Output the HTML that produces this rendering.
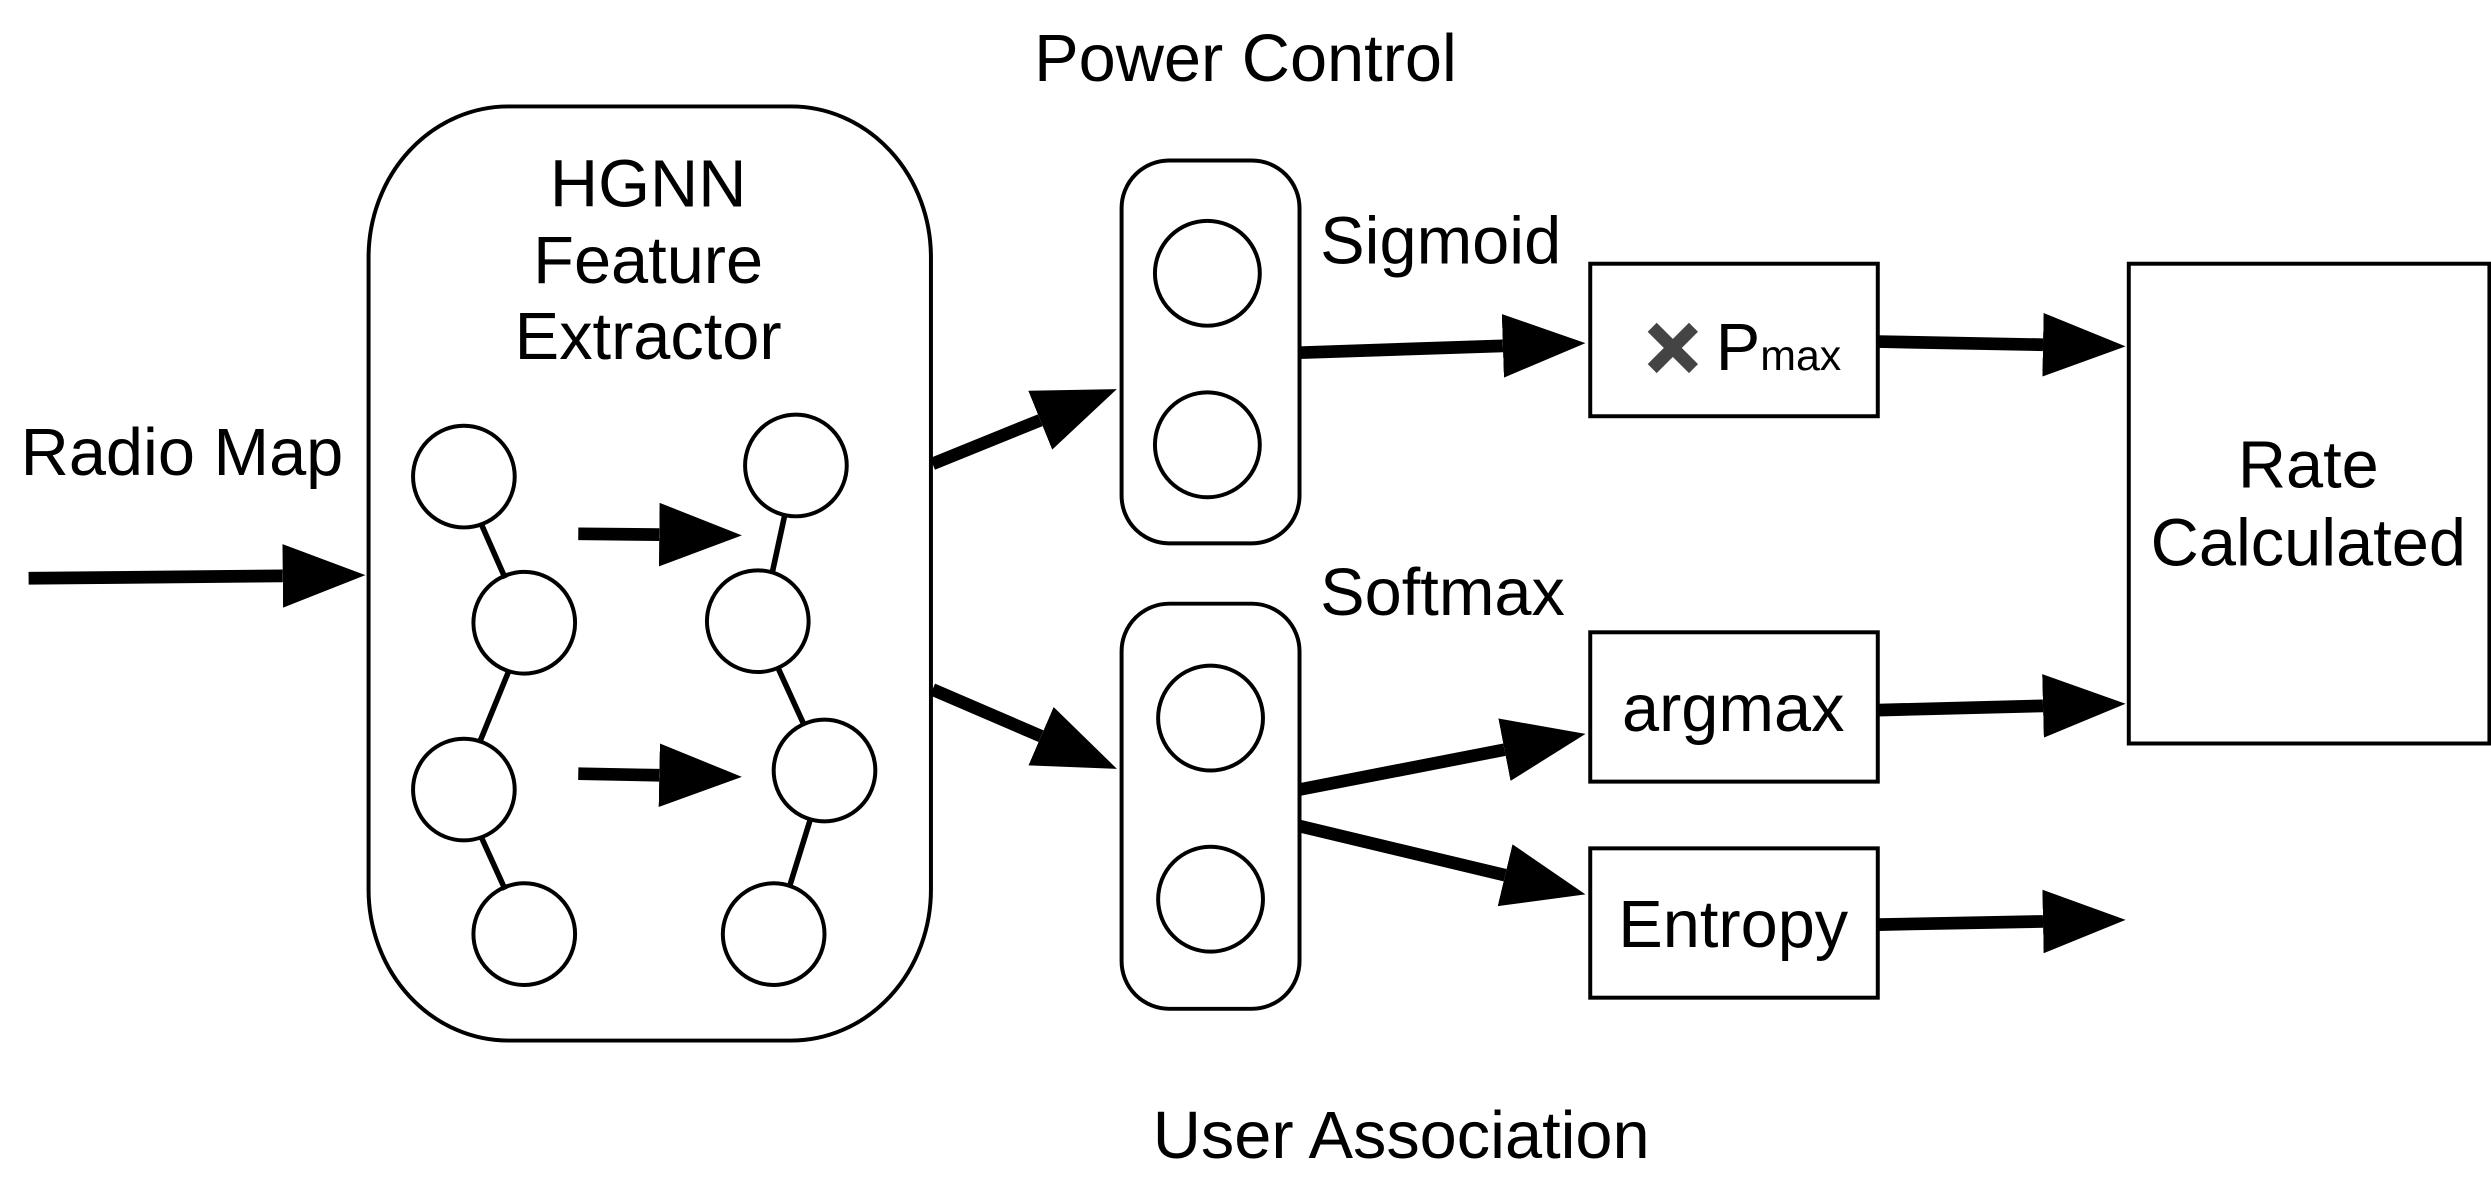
<!DOCTYPE html>
<html><head><style>html,body{margin:0;padding:0;background:#fff}svg{display:block}</style></head>
<body>
<svg width="2491" height="1195" viewBox="0 0 1568 752.2" xmlns="http://www.w3.org/2000/svg" font-family="Liberation Sans, sans-serif">
<defs>
<marker id="a" markerUnits="userSpaceOnUse" markerWidth="60" markerHeight="50" refX="0" refY="20" orient="auto">
<path d="M0,0 L52,20 L0,40 Z" fill="#000"/>
</marker>
</defs>
<rect width="1568" height="752.2" fill="#fff"/>
<g font-size="42" fill="#000">
<text x="784" y="51" text-anchor="middle">Power Control</text>
<text x="408" y="130" text-anchor="middle">HGNN</text>
<text x="408" y="178" text-anchor="middle">Feature</text>
<text x="408" y="226" text-anchor="middle">Extractor</text>
<text x="13" y="299">Radio Map</text>
<text x="831" y="166">Sigmoid</text>
<text x="831" y="387">Softmax</text>
<text x="1453" y="307" text-anchor="middle">Rate</text>
<text x="1453" y="356" text-anchor="middle">Calculated</text>
<text x="1091" y="460" text-anchor="middle">argmax</text>
<text x="1091" y="596" text-anchor="middle">Entropy</text>
<text x="882" y="729" text-anchor="middle">User Association</text>
<text x="1080" y="233">P<tspan font-size="27">max</tspan></text>
</g>
<path d="M1040,206 L1066,232 M1066,206 L1040,232" stroke="#444" stroke-width="8"/>
<g fill="none" stroke="#000" stroke-width="2.5">
<rect x="232" y="67" width="354" height="588" rx="88" ry="95"/>
<rect x="706" y="101" width="112" height="241" rx="30"/>
<rect x="706" y="380" width="112" height="255" rx="30"/>
<rect x="1001" y="166" width="181" height="96"/>
<rect x="1340" y="166" width="227" height="302"/>
<rect x="1001" y="398" width="181" height="94"/>
<rect x="1001" y="534" width="181" height="94"/>
<g stroke-width="3.5">
<line x1="303" y1="330" x2="318" y2="364"/>
<line x1="320" y1="423" x2="302" y2="467"/>
<line x1="303" y1="527" x2="318" y2="560"/>
<line x1="494" y1="324" x2="486" y2="361"/>
<line x1="490" y1="421" x2="506" y2="456"/>
<line x1="510" y1="516" x2="497" y2="558"/>
</g>
<circle cx="292" cy="300" r="32"/><circle cx="330" cy="392" r="32"/>
<circle cx="292" cy="497" r="32"/><circle cx="330" cy="588" r="32"/>
<circle cx="501" cy="293" r="32"/><circle cx="477" cy="391" r="32"/>
<circle cx="519" cy="485" r="32"/><circle cx="487" cy="588" r="32"/>
<circle cx="760" cy="172" r="33"/><circle cx="760" cy="280" r="33"/>
<circle cx="762" cy="452" r="33"/><circle cx="762" cy="566" r="33"/>
</g>
<g stroke="#000" stroke-width="8" marker-end="url(#a)">
<line x1="18" y1="364" x2="178" y2="362.5"/>
<line x1="364" y1="336" x2="415" y2="336.5"/>
<line x1="364" y1="487" x2="415" y2="488"/>
<line x1="587" y1="292" x2="654.8" y2="264.5"/>
<line x1="587" y1="434" x2="655.3" y2="463.4"/>
<line x1="818" y1="222" x2="946" y2="217.7"/>
<line x1="1182" y1="215" x2="1286" y2="217"/>
<line x1="818" y1="497" x2="947" y2="471.9"/>
<line x1="1182" y1="447" x2="1286" y2="444.3"/>
<line x1="818" y1="520" x2="947.4" y2="550.9"/>
<line x1="1182" y1="582" x2="1286" y2="580"/>
</g>
</svg>
</body></html>
